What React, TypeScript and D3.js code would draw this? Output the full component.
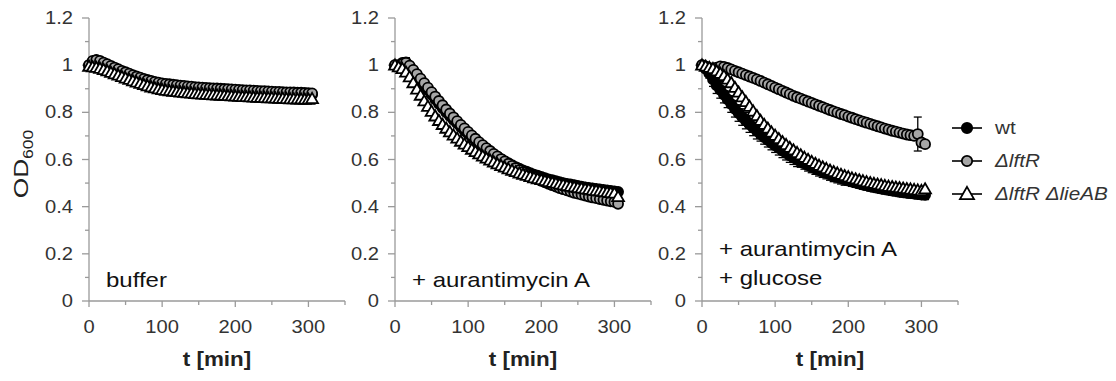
import * as d3 from 'd3';

// sampling times (min)
const TIME = [
  0, 5, 10, 15, 20, 25, 30, 35, 40, 45, 50, 55, 60, 65, 70, 75, 80, 85, 90, 95,
  100, 105, 110, 115, 120, 125, 130, 135, 140, 145, 150, 155, 160, 165, 170, 175, 180, 185, 190, 195,
  200, 205, 210, 215, 220, 225, 230, 235, 240, 245, 250, 255, 260, 265, 270, 275, 280, 285, 290, 295,
  300, 305,
];

const Y_TICKS = [0, 0.2, 0.4, 0.6, 0.8, 1, 1.2];
const Y_MINOR = [0.1, 0.3, 0.5, 0.7, 0.9, 1.1];
const X_TICKS = [0, 100, 200, 300];
const X_MINOR = [50, 150, 250, 350];

// panel 1: buffer
const bufWt = [
  1.0, 1.015, 1.02, 1.015, 1.008, 1.0, 0.993, 0.986, 0.979, 0.972,
  0.966, 0.96, 0.954, 0.948, 0.942, 0.937, 0.932, 0.928, 0.924, 0.921,
  0.918, 0.916, 0.914, 0.912, 0.91, 0.909, 0.907, 0.906, 0.904, 0.903,
  0.901, 0.9, 0.899, 0.898, 0.897, 0.896, 0.895, 0.894, 0.893, 0.892,
  0.891, 0.89, 0.889, 0.889, 0.888, 0.887, 0.886, 0.886, 0.885, 0.884,
  0.883, 0.883, 0.882, 0.881, 0.881, 0.88, 0.879, 0.879, 0.878, 0.877,
  0.877, 0.876,
];
const bufLftR = [
  1.0, 1.018, 1.022, 1.018, 1.011, 1.004, 0.997, 0.99, 0.983, 0.976,
  0.97, 0.964, 0.958, 0.952, 0.947, 0.942, 0.937, 0.933, 0.929, 0.926,
  0.923, 0.921, 0.919, 0.917, 0.915, 0.913, 0.912, 0.91, 0.909, 0.907,
  0.906, 0.905, 0.904, 0.903, 0.902, 0.901, 0.9, 0.899, 0.898, 0.897,
  0.896, 0.895, 0.894, 0.893, 0.893, 0.892, 0.891, 0.89, 0.89, 0.889,
  0.888, 0.887, 0.887, 0.886, 0.885, 0.885, 0.884, 0.883, 0.883, 0.882,
  0.881, 0.88,
];
const bufLie = [
  0.995, 0.992, 0.99, 0.986, 0.981, 0.975, 0.969, 0.963, 0.957, 0.951,
  0.945, 0.939, 0.933, 0.928, 0.922, 0.917, 0.912, 0.907, 0.903, 0.899,
  0.896, 0.893, 0.891, 0.889, 0.887, 0.885, 0.884, 0.882, 0.881, 0.879,
  0.878, 0.877, 0.876, 0.875, 0.874, 0.873, 0.872, 0.871, 0.87, 0.869,
  0.868, 0.867, 0.866, 0.866, 0.865, 0.864, 0.863, 0.863, 0.862, 0.861,
  0.861, 0.86, 0.859, 0.859, 0.858, 0.857, 0.857, 0.856, 0.856, 0.855,
  0.855, 0.858,
];

// panel 2: + aurantimycin A
const aurWt = [
  1.0, 1.0, 1.01, 1.012, 0.995, 0.975, 0.955, 0.935, 0.915, 0.895,
  0.875, 0.855, 0.836, 0.818, 0.8, 0.784, 0.768, 0.753, 0.738, 0.723,
  0.709, 0.695, 0.681, 0.668, 0.656, 0.644, 0.633, 0.622, 0.612, 0.602,
  0.593, 0.584, 0.576, 0.568, 0.561, 0.554, 0.548, 0.542, 0.536, 0.531,
  0.526, 0.521, 0.516, 0.512, 0.508, 0.504, 0.5, 0.497, 0.494, 0.491,
  0.488, 0.485, 0.482, 0.48, 0.477, 0.475, 0.473, 0.471, 0.469, 0.467,
  0.465, 0.463,
];
const aurWtErr = [
  0, 0, 0, 0.02, 0, 0, 0, 0, 0, 0, 0, 0, 0, 0, 0, 0, 0, 0, 0, 0,
  0, 0, 0, 0, 0, 0, 0, 0, 0, 0, 0, 0, 0, 0, 0, 0, 0, 0, 0, 0,
  0, 0, 0, 0, 0, 0, 0, 0, 0, 0, 0, 0, 0, 0, 0, 0, 0, 0, 0, 0,
  0, 0,
];
const aurLftR = [
  1.0, 0.995, 1.005, 1.01, 0.998, 0.98, 0.962, 0.943, 0.924, 0.905,
  0.886, 0.867, 0.848, 0.83, 0.812, 0.795, 0.779, 0.763, 0.747, 0.732,
  0.717, 0.702, 0.688, 0.674, 0.661, 0.648, 0.636, 0.624, 0.613, 0.602,
  0.592, 0.582, 0.573, 0.564, 0.555, 0.547, 0.539, 0.531, 0.524, 0.517,
  0.51, 0.503, 0.497, 0.491, 0.485, 0.479, 0.474, 0.469, 0.464, 0.459,
  0.455, 0.451, 0.447, 0.443, 0.439, 0.436, 0.432, 0.429, 0.426, 0.423,
  0.42, 0.412,
];
const aurLie = [
  1.0, 0.992, 0.985, 0.97, 0.95, 0.925, 0.898, 0.872, 0.848, 0.825,
  0.804, 0.784, 0.765, 0.748, 0.732, 0.717, 0.703, 0.69, 0.677, 0.665,
  0.654, 0.643, 0.633, 0.623, 0.614, 0.605, 0.597, 0.589, 0.581, 0.574,
  0.567, 0.56, 0.554, 0.548, 0.542, 0.537, 0.532, 0.527, 0.522, 0.518,
  0.514, 0.51, 0.506, 0.502, 0.499, 0.495, 0.492, 0.489, 0.486, 0.483,
  0.48, 0.478, 0.475, 0.473, 0.47, 0.468, 0.466, 0.463, 0.461, 0.459,
  0.457, 0.442,
];

// panel 3: + aurantimycin A + glucose
const gluWt = [
  1.0, 0.985, 0.965, 0.94, 0.915, 0.895, 0.875, 0.855, 0.835, 0.815,
  0.797, 0.78, 0.765, 0.75, 0.736, 0.722, 0.708, 0.695, 0.683, 0.671,
  0.66, 0.649, 0.638, 0.628, 0.618, 0.609, 0.6, 0.592, 0.584, 0.576,
  0.569, 0.562, 0.555, 0.549, 0.543, 0.537, 0.531, 0.526, 0.521, 0.516,
  0.511, 0.506, 0.502, 0.498, 0.494, 0.49, 0.486, 0.483, 0.48, 0.477,
  0.474, 0.471, 0.468, 0.466, 0.463, 0.461, 0.459, 0.457, 0.455, 0.453,
  0.451, 0.45,
];
const gluWtErr = [
  0, 0.01, 0.02, 0.03, 0.035, 0.035, 0.035, 0.035, 0.035, 0.035,
  0.035, 0.035, 0.035, 0.035, 0.035, 0.035, 0.03, 0.03, 0.03, 0.03,
  0.03, 0.03, 0.03, 0.03, 0.03, 0.03, 0.03, 0.025, 0.025, 0.025,
  0.025, 0.025, 0.025, 0.025, 0.025, 0.025, 0.025, 0.025, 0.025, 0.025,
  0.02, 0.02, 0.02, 0.02, 0.02, 0.02, 0.02, 0.02, 0.02, 0.02,
  0.02, 0.02, 0.02, 0.02, 0.02, 0.02, 0.02, 0.02, 0.02, 0.02,
  0.02, 0.02,
];
const gluLftR = [
  1.0, 0.995, 0.988, 0.985, 0.99, 0.995, 0.993, 0.988, 0.982, 0.976,
  0.97, 0.964, 0.958, 0.952, 0.946, 0.94, 0.933, 0.926, 0.919, 0.912,
  0.905, 0.898, 0.891, 0.884, 0.877, 0.87, 0.864, 0.858, 0.852, 0.846,
  0.84, 0.834, 0.828, 0.822, 0.816, 0.81, 0.804, 0.799, 0.793, 0.788,
  0.782, 0.777, 0.771, 0.766, 0.761, 0.756, 0.751, 0.746, 0.741, 0.736,
  0.731, 0.727, 0.722, 0.718, 0.714, 0.71, 0.706, 0.703, 0.7, 0.708,
  0.672, 0.665,
];
const gluLftRErr = [
  0, 0, 0, 0, 0, 0, 0, 0, 0, 0, 0, 0, 0, 0, 0, 0, 0, 0, 0, 0,
  0, 0, 0, 0, 0, 0, 0, 0, 0, 0, 0, 0, 0, 0, 0, 0, 0, 0, 0, 0,
  0, 0, 0, 0, 0, 0, 0, 0, 0, 0, 0, 0, 0, 0, 0, 0, 0, 0, 0, 0.072,
  0, 0,
];
const gluLie = [
  1.0, 0.995, 0.99, 0.985, 0.975, 0.965, 0.955, 0.94, 0.925, 0.905,
  0.885, 0.865, 0.845, 0.825, 0.805, 0.785, 0.765, 0.748, 0.732, 0.716,
  0.702, 0.688, 0.675, 0.663, 0.651, 0.64, 0.629, 0.619, 0.609, 0.6,
  0.591, 0.583, 0.575, 0.568, 0.561, 0.554, 0.548, 0.542, 0.536, 0.531,
  0.526, 0.521, 0.517, 0.513, 0.509, 0.505, 0.501, 0.498, 0.495, 0.492,
  0.489, 0.486, 0.484, 0.482, 0.48, 0.478, 0.476, 0.474, 0.472, 0.47,
  0.468, 0.475,
];

const STRAINS = ['wt', 'ΔlftR', 'ΔlftR ΔlieAB'];
const PANEL_LABELS = [['buffer'], ['+ aurantimycin A'], ['+ aurantimycin A', '+ glucose']];

type Series = { values: number[]; err?: number[] };

const PANELS: Series[][] = [
  [{ values: bufWt }, { values: bufLftR }, { values: bufLie }],
  [{ values: aurWt, err: aurWtErr }, { values: aurLftR }, { values: aurLie }],
  [{ values: gluWt, err: gluWtErr }, { values: gluLftR, err: gluLftRErr }, { values: gluLie }],
];

const W = 1116;
const H = 381;
const AXIS_X = [89, 395, 702];
const X_LEN = 256;
const AXIS_COLOR = '#9a9a9a';
const TEXT_COLOR = '#333';
const FILLS = ['#000', '#a6a6a6', '#fff'];
const FONT = 'Liberation Sans, Arial, sans-serif';

const y = d3.scaleLinear().domain([0, 1.2]).range([301, 18]);
const triangle = d3.symbol(d3.symbolTriangle, 60)();
const triangleBig = d3.symbol(d3.symbolTriangle, 85)();

function Txt(props: {
  x: number; y: number; size: number; sx?: number; anchor?: string; weight?: string;
  italic?: boolean; rotate?: number; fill?: string; baseline?: string; children: any;
}) {
  const { x, y, size, sx = 1.15, anchor = 'start', weight = 'normal', italic = false, rotate = 0,
    fill = TEXT_COLOR, baseline = 'alphabetic', children } = props;
  return (
    <text
      transform={`translate(${x},${y}) rotate(${rotate}) scale(${sx},1)`}
      fontSize={size}
      fontFamily={FONT}
      fontWeight={weight}
      fontStyle={italic ? 'italic' : 'normal'}
      textAnchor={anchor}
      dominantBaseline={baseline}
      fill={fill}
    >
      {children}
    </text>
  );
}

function Marker({ kind, cx, cy, big = false }: { kind: number; cx: number; cy: number; big?: boolean }) {
  if (kind === 2) {
    return (
      <path d={big ? triangleBig : triangle} transform={`translate(${cx},${cy + 1})`}
        fill="#fff" stroke="#000" strokeWidth={1.8} />
    );
  }
  return <circle cx={cx} cy={cy} r={big ? 5.2 : 5} fill={FILLS[kind]} stroke="#000" strokeWidth={1.8} />;
}

function Panel({ idx }: { idx: number }) {
  const x0 = AXIS_X[idx];
  const x = d3.scaleLinear().domain([0, 350]).range([x0, x0 + X_LEN]);
  const series = PANELS[idx];
  const labels = PANEL_LABELS[idx];
  const base = y(0);
  return (
    <g>
      {/* y axis */}
      <line x1={x0} x2={x0} y1={y(1.2)} y2={base} stroke={AXIS_COLOR} strokeWidth={1.3} />
      {Y_TICKS.map((t) => (
        <g key={`yt${t}`}>
          <line x1={x0 - 7} x2={x0} y1={y(t)} y2={y(t)} stroke={AXIS_COLOR} strokeWidth={1.3} />
          <Txt x={x0 - 16} y={y(t)} size={18} sx={1.12} anchor="end" baseline="central">
            {d3.format('~g')(t)}
          </Txt>
        </g>
      ))}
      {Y_MINOR.map((t) => (
        <line key={`ym${t}`} x1={x0 - 4} x2={x0} y1={y(t)} y2={y(t)} stroke={AXIS_COLOR} strokeWidth={1.3} />
      ))}
      {/* x axis */}
      <line x1={x0} x2={x0 + X_LEN} y1={base} y2={base} stroke={AXIS_COLOR} strokeWidth={1.3} />
      {X_TICKS.map((t) => (
        <g key={`xt${t}`}>
          <line x1={x(t)} x2={x(t)} y1={base} y2={base + 6} stroke={AXIS_COLOR} strokeWidth={1.3} />
          <Txt x={x(t)} y={base + 32} size={18} sx={1.12} anchor="middle">{t}</Txt>
        </g>
      ))}
      {X_MINOR.map((t) => (
        <line key={`xm${t}`} x1={x(t)} x2={x(t)} y1={base} y2={base + 4} stroke={AXIS_COLOR} strokeWidth={1.3} />
      ))}
      <Txt x={x(175)} y={366} size={20} sx={1.12} anchor="middle" weight="bold" fill="#222">t [min]</Txt>

      {/* data */}
      {series.map((s, k) => (
        <g key={`s${k}`}>
          {s.err && s.values.map((v, i) => s.err![i] > 0 ? (
            <g key={`e${i}`} stroke="#000" strokeWidth={1.3}>
              <line x1={x(TIME[i])} x2={x(TIME[i])} y1={y(v - s.err![i])} y2={y(v + s.err![i])} />
              <line x1={x(TIME[i]) - 4} x2={x(TIME[i]) + 4} y1={y(v - s.err![i])} y2={y(v - s.err![i])} />
              <line x1={x(TIME[i]) - 4} x2={x(TIME[i]) + 4} y1={y(v + s.err![i])} y2={y(v + s.err![i])} />
            </g>
          ) : null)}
          {s.values.map((v, i) => (
            <Marker key={`m${i}`} kind={k} cx={x(TIME[i])} cy={y(v)} />
          ))}
        </g>
      ))}

      {labels.map((l, i) => (
        <Txt key={l} x={x0 + 17} y={labels.length === 1 ? 287 : 256 + i * 29} size={20} sx={1.2} fill="#111">{l}</Txt>
      ))}
    </g>
  );
}

export default function App() {
  const legendY = [128, 161, 194];
  return (
    <svg width={W} height={H} style={{ position: 'absolute', left: 0, top: 0, background: '#fff' }}>
      <rect width={W} height={H} fill="#fff" />
      <text transform={`translate(28,164) rotate(-90) scale(1.25,1)`} fontSize={21} fontFamily={FONT}
        textAnchor="middle" fill="#222">
        OD<tspan fontSize={14} dy={5}>600</tspan>
      </text>
      {[0, 1, 2].map((i) => <Panel key={i} idx={i} />)}
      {STRAINS.map((name, k) => (
        <g key={name}>
          <line x1={952} x2={982} y1={legendY[k]} y2={legendY[k]} stroke="#000" strokeWidth={1.6} />
          <Marker kind={k} cx={967} cy={legendY[k]} big />
          <Txt x={995} y={legendY[k]} size={18} sx={1.15} italic={k > 0} baseline="central">{name}</Txt>
        </g>
      ))}
    </svg>
  );
}
